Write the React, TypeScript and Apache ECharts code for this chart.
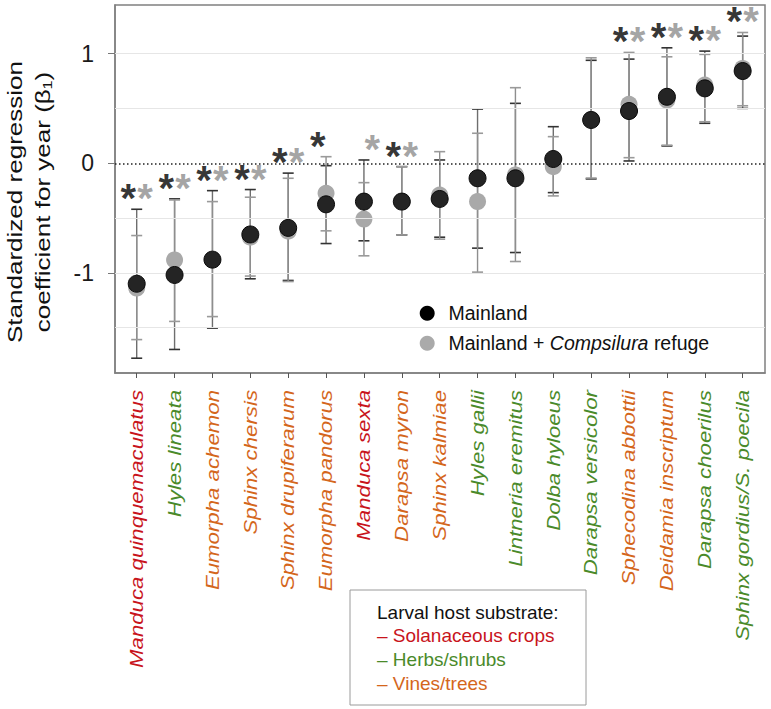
import { useEffect, useRef } from 'react';
import * as echarts from 'echarts';

const species = [
  'Manduca quinquemaculatus', 'Hyles lineata', 'Eumorpha achemon', 'Sphinx chersis',
  'Sphinx drupiferarum', 'Eumorpha pandorus', 'Manduca sexta', 'Darapsa myron',
  'Sphinx kalmiae', 'Hyles gallii', 'Lintneria eremitus', 'Dolba hyloeus',
  'Darapsa versicolor', 'Sphecodina abbottii', 'Deidamia inscriptum', 'Darapsa choerilus',
  'Sphinx gordius/S. poecila',
];
// 0 = Solanaceous crops, 1 = Herbs/shrubs, 2 = Vines/trees
const hostType = [0, 1, 2, 2, 2, 2, 0, 2, 2, 1, 1, 1, 1, 2, 2, 1, 1];
const hostNames = ['Solanaceous crops', 'Herbs/shrubs', 'Vines/trees'];
const hostColors = ['#c8141c', '#4a8a2a', '#d4661c'];

const mainlandEst = [-1.10, -1.02, -0.88, -0.65, -0.59, -0.375, -0.35, -0.35, -0.326, -0.137, -0.137, 0.039, 0.395, 0.477, 0.607, 0.684, 0.842];
const mainlandLo = [-1.78, -1.70, -1.505, -1.055, -1.07, -0.733, -0.708, -0.654, -0.675, -0.775, -0.815, -0.268, -0.143, 0.021, 0.158, 0.365, 0.501];
const mainlandHi = [-0.42, -0.325, -0.25, -0.24, -0.09, -0.022, 0.03, -0.031, 0.03, 0.495, 0.547, 0.334, 0.94, 0.951, 1.054, 1.024, 1.161];

const refugeEst = [-1.14, -0.883, -0.88, -0.675, -0.62, -0.274, -0.51, -0.35, -0.29, -0.35, -0.107, -0.031, 0.40, 0.538, 0.577, 0.714, 0.866];
const refugeLo = [-1.61, -1.444, -1.40, -1.03, -1.08, -0.617, -0.845, -0.654, -0.693, -0.994, -0.897, -0.298, -0.135, 0.051, 0.165, 0.379, 0.525];
const refugeHi = [-0.66, -0.335, -0.35, -0.31, -0.137, 0.06, -0.177, -0.031, 0.106, 0.274, 0.69, 0.243, 0.963, 1.012, 0.972, 0.994, 1.194];

const mainlandSig = [true, true, true, true, true, true, false, true, false, false, false, false, false, true, true, true, true];
const refugeSig = [true, true, true, true, true, false, true, true, false, false, false, false, false, true, true, true, true];

const yTickValues = [-1, 0, 1];
const yGridValues = [-1.5, -1, -0.5, 0.5, 1];

const SERIES_MAIN = 'Mainland';
const SERIES_REF = 'Mainland + Compsilura refuge';

const FONT = '"Liberation Sans", Arial, Helvetica, sans-serif';
const GRID = { left: 115, top: 5, width: 650, height: 368 };

function errorBar(lineColor: string, capColor: string) {
  return (params: any, api: any) => {
    const x = api.value(0);
    const lo = api.coord([x, api.value(1)]);
    const hi = api.coord([x, api.value(2)]);
    const hw = 5.5;
    return {
      type: 'group',
      children: [
        { type: 'line', shape: { x1: lo[0], y1: lo[1], x2: hi[0], y2: hi[1] }, style: { stroke: lineColor, lineWidth: 1.4 } },
        { type: 'line', shape: { x1: lo[0] - hw, y1: lo[1], x2: lo[0] + hw, y2: lo[1] }, style: { stroke: capColor, lineWidth: 1.6 } },
        { type: 'line', shape: { x1: hi[0] - hw, y1: hi[1], x2: hi[0] + hw, y2: hi[1] }, style: { stroke: capColor, lineWidth: 1.6 } },
      ],
    };
  };
}

function starData(sig: boolean[]) {
  const out: number[][] = [];
  species.forEach((_, i) => {
    if (sig[i]) out.push([i, Math.max(mainlandHi[i], refugeHi[i])]);
  });
  return out;
}

function starSeries(sig: boolean[], color: string, dx: number) {
  return {
    type: 'scatter',
    z: 6,
    silent: true,
    symbolSize: 1,
    itemStyle: { color: 'rgba(0,0,0,0)' },
    data: starData(sig),
    label: {
      show: true,
      position: 'inside',
      formatter: '*',
      color,
      fontSize: 40,
      fontWeight: 'bold',
      fontFamily: FONT,
      offset: [dx, -11],
    },
  };
}

export default function App() {
  const ref = useRef<HTMLDivElement>(null);

  useEffect(() => {
    document.body.style.margin = '0';
    if (!ref.current) return;
    const chart = echarts.init(ref.current, null, { renderer: 'svg' });

    const option: any = {
      animation: false,
      backgroundColor: '#ffffff',
      grid: { ...GRID, show: true, borderColor: '#808080', borderWidth: 1.5, backgroundColor: 'transparent' },
      xAxis: {
        type: 'value',
        min: -0.573,
        max: 16.59,
        axisLine: { show: true, onZero: false, lineStyle: { color: '#808080', width: 1.5 } },
        axisTick: { show: true, customValues: species.map((_, i) => i), length: 5, lineStyle: { color: '#555' } },
        axisLabel: { show: false },
        splitLine: { show: false },
      },
      yAxis: {
        type: 'value',
        min: -1.915,
        max: 1.445,
        axisLine: { show: true, onZero: false, lineStyle: { color: '#808080', width: 1.5 } },
        axisTick: { show: true, customValues: yTickValues, length: 7, lineStyle: { color: '#777' } },
        axisLabel: { customValues: yTickValues, fontSize: 23, color: '#1a1a1a', fontFamily: FONT, margin: 21 },
        splitLine: { show: false },
      },
      legend: {
        orient: 'vertical',
        left: 414.7,
        top: 298.3,
        itemWidth: 32.6,
        itemHeight: 15,
        itemGap: 10,
        selectedMode: false,
        data: [
          { name: SERIES_MAIN, icon: 'circle', itemStyle: { color: '#000000', borderWidth: 0 } },
          { name: SERIES_REF, icon: 'circle', itemStyle: { color: '#aaaaaa', borderWidth: 0 } },
        ],
        formatter: (name: string) => (name === SERIES_REF ? 'Mainland + {i|Compsilura} refuge' : name),
        textStyle: {
          fontSize: 19.5,
          lineHeight: 20,
          color: '#111',
          fontFamily: FONT,
          rich: { i: { fontStyle: 'italic', fontSize: 19.5, lineHeight: 20, color: '#111', fontFamily: FONT } },
        },
      },
      series: [
        {
          type: 'line',
          name: 'gridlines',
          z: 1,
          silent: true,
          data: [],
          markLine: {
            silent: true,
            symbol: 'none',
            label: { show: false },
            data: [
              ...yGridValues.map((v) => ({ yAxis: v, lineStyle: { color: '#e6e6e6', width: 1, type: 'solid' } })),
              { yAxis: 0, lineStyle: { color: '#222', width: 1.5, type: [1.5, 2.5] } },
            ],
          },
        },
        {
          type: 'custom',
          name: 'Mainland CI',
          z: 2,
          silent: true,
          renderItem: errorBar('#6e6e6e', '#333333'),
          encode: { x: 0, y: [1, 2] },
          data: species.map((_, i) => [i, mainlandLo[i], mainlandHi[i]]),
        },
        {
          type: 'custom',
          name: 'Refuge CI',
          z: 3,
          silent: true,
          renderItem: errorBar('#8e8e8e', '#9a9a9a'),
          encode: { x: 0, y: [1, 2] },
          data: species.map((_, i) => [i, refugeLo[i], refugeHi[i]]),
        },
        {
          type: 'scatter',
          name: SERIES_REF,
          z: 4,
          symbolSize: 17,
          itemStyle: { color: '#a9a9a9', opacity: 1 },
          data: species.map((_, i) => [i, refugeEst[i]]),
        },
        {
          type: 'scatter',
          name: SERIES_MAIN,
          z: 5,
          symbolSize: 17,
          itemStyle: { color: '#242424', borderColor: '#0a0a0a', borderWidth: 1, opacity: 1 },
          data: species.map((_, i) => [i, mainlandEst[i]]),
        },
        starSeries(mainlandSig, '#000000', -8.4),
        starSeries(refugeSig, '#8c8c8c', 8.4),
      ],
    };

    chart.setOption(option);

    const labelTop = GRID.top + GRID.height + 17;
    const catLabels = species.map((name, i) => {
      const px = chart.convertToPixel({ gridIndex: 0 }, [i, 0]) as number[];
      return {
        type: 'text',
        x: px[0],
        y: labelTop,
        rotation: Math.PI / 2,
        scaleX: 1.235,
        silent: true,
        style: {
          text: name,
          fill: hostColors[hostType[i]],
          fontSize: 18,
          fontStyle: 'italic',
          fontFamily: FONT,
          align: 'right',
          verticalAlign: 'middle',
        },
      };
    });

    const titleCenterY = GRID.top + GRID.height / 2 + 13;
    const title = {
      type: 'text',
      x: 29,
      y: titleCenterY,
      rotation: Math.PI / 2,
      scaleX: 1.24,
      silent: true,
      style: {
        text: 'Standardized regression\ncoefficient for year (β₁)',
        fill: '#111',
        fontSize: 21,
        lineHeight: 28,
        fontFamily: FONT,
        align: 'center',
        verticalAlign: 'middle',
      },
    };

    const boxX = 350;
    const boxY = 590;
    const hostLegend = {
      type: 'group',
      x: boxX,
      y: boxY,
      silent: true,
      children: [
        { type: 'rect', shape: { x: 0, y: 0, width: 236, height: 115 }, style: { fill: '#ffffff', stroke: '#9a9a9a', lineWidth: 1 } },
        {
          type: 'text', x: 27, y: 22,
          style: { text: 'Larval host substrate:', fill: '#111', fontSize: 19, fontFamily: FONT, verticalAlign: 'middle', align: 'left' },
        },
        ...hostNames.map((h, k) => ({
          type: 'text', x: 27, y: 45 + k * 24,
          style: { text: '– ' + h, fill: hostColors[k], fontSize: 19, fontFamily: FONT, verticalAlign: 'middle', align: 'left' },
        })),
      ],
    };

    chart.setOption({ graphic: [title, ...catLabels, hostLegend] });

    return () => chart.dispose();
  }, []);

  return <div ref={ref} style={{ width: 771, height: 709 }} />;
}
